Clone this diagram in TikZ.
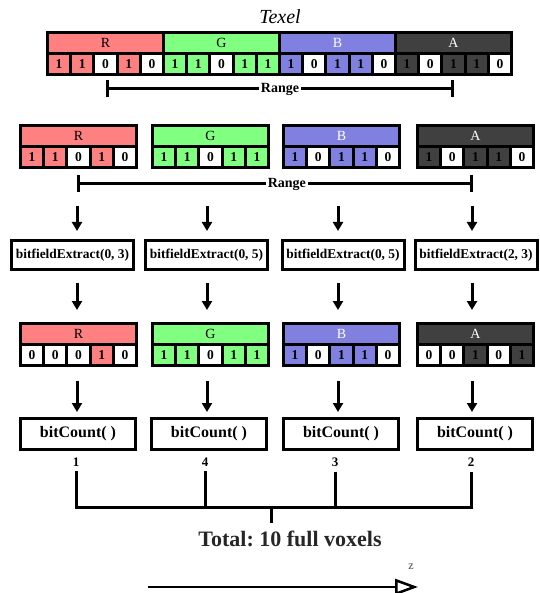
\documentclass[tikz,border=0pt]{standalone}
\usepackage{fontspec}
\setmainfont{Liberation Serif}
\usetikzlibrary{arrows.meta, positioning}
\frenchspacing

\definecolor{redfill}{HTML}{FF8080}
\definecolor{greenfill}{HTML}{80FF80}
\definecolor{bluefill}{HTML}{8080E0}
\definecolor{alphafill}{HTML}{404040}

% name / frame left / frame top / colour / channel / header text / bits
\def\registers{%
  texR/46/31/redfill/R/black/{1,1,0,1,0},
  texG/162/31/greenfill/G/black/{1,1,0,1,1},
  texB/278/31/bluefill/B/white/{1,0,1,1,0},
  texA/394/31/alphafill/A/white/{1,0,1,1,0},
  inR/19/124/redfill/R/black/{1,1,0,1,0},
  inG/151/124/greenfill/G/black/{1,1,0,1,1},
  inB/282/124/bluefill/B/white/{1,0,1,1,0},
  inA/416/124/alphafill/A/white/{1,0,1,1,0},
  outR/19/322/redfill/R/black/{0,0,0,1,0},
  outG/151/322/greenfill/G/black/{1,1,0,1,1},
  outB/282/322/bluefill/B/white/{1,0,1,1,0},
  outA/416/322/alphafill/A/white/{0,0,1,0,1}}

\begin{document}
\begin{tikzpicture}[x=1pt, y=-1pt,
    regframe/.style={rectangle, fill=black, inner sep=0pt, outer sep=0pt,
        minimum width=119pt, minimum height=45pt},
    hdr/.style={rectangle, inner sep=0pt, minimum width=113pt, minimum height=18pt,
        font=\fontsize{14}{16}\selectfont},
    bitcell/.style={rectangle, inner sep=0pt, minimum width=20.2pt, minimum height=18pt,
        font=\fontsize{13.5}{15}\selectfont\bfseries},
    opbox/.style={draw, line width=3pt, inner sep=0pt, fill=white},
    flow/.style={line width=3pt, -{Triangle[length=9pt, width=10pt]}},
    rangebar/.style={line width=3pt, {Bar[width=17pt]}-{Bar[width=17pt]}},
    rangelabel/.style={fill=white, inner sep=2pt, font=\fontsize{14}{16}\selectfont\bfseries},
    bracket/.style={line width=3pt},
    num/.style={inner sep=0pt, font=\fontsize{13}{15}\selectfont\bfseries}]

    \useasboundingbox (0,0) rectangle (539,593);

    % Texel and the three register rows
    \node[font=\fontsize{20}{24}\selectfont\itshape] (texel) at (280,17) {Texel};

    \foreach \reg/\fl/\yt/\col/\lab/\hc/\bits in \registers
        \node[regframe] (\reg) at ({\fl+59.5}, {\yt+22.5}) {};

    \foreach \reg/\fl/\yt/\col/\lab/\hc/\bits in \registers {
        \node[hdr, fill=\col, text=\hc] (\reg-h) at ({\fl+59.5}, {\yt+12}) {\lab};
        \foreach \bit [count=\i] in \bits {
            \ifnum\bit=1 \def\cellfill{\col}\else\def\cellfill{white}\fi
            \node[bitcell, fill=\cellfill] (\reg-\i) at ({\fl+1.5+(\i-0.5)*23.2}, {\yt+33}) {\bit};
        }
    }

    % Ranges
    \coordinate (rngTopL) at (106,89);
    \coordinate (rngTopR) at (454,89);
    \draw[rangebar] (rngTopL) -- node[rangelabel] (rngTopLabel) {Range} (rngTopR);
    \coordinate (rngL) at (77,184);
    \coordinate (rngR) at (473,184);
    \draw[rangebar] (rngL) -- node[rangelabel, pos=0.53] (rngLabel) {Range} (rngR);

    % Operations
    \node[opbox, minimum width=122pt, minimum height=29pt,
        font=\fontsize{13.4}{16}\selectfont\bfseries] (exR) at (72.5,255) {bitfieldExtract(0, 3)};
    \node[opbox, minimum width=122pt, minimum height=29pt,
        font=\fontsize{13.4}{16}\selectfont\bfseries] (exG) at (206.5,255) {bitfieldExtract(0, 5)};
    \node[opbox, minimum width=122pt, minimum height=29pt,
        font=\fontsize{13.4}{16}\selectfont\bfseries] (exB) at (343,255) {bitfieldExtract(0, 5)};
    \node[opbox, minimum width=122pt, minimum height=29pt,
        font=\fontsize{13.4}{16}\selectfont\bfseries] (exA) at (476,255) {bitfieldExtract(2, 3)};

    \node[opbox, minimum width=115pt, minimum height=31pt,
        font=\fontsize{16}{18}\selectfont\bfseries] (cntR) at (78,434) {bitCount( )};
    \node[opbox, minimum width=115pt, minimum height=31pt,
        font=\fontsize{16}{18}\selectfont\bfseries] (cntG) at (209,434) {bitCount( )};
    \node[opbox, minimum width=115pt, minimum height=31pt,
        font=\fontsize{16}{18}\selectfont\bfseries] (cntB) at (341,434) {bitCount( )};
    \node[opbox, minimum width=115pt, minimum height=31pt,
        font=\fontsize{16}{18}\selectfont\bfseries] (cntA) at (475,434) {bitCount( )};

    % Flow arrows per channel
    \coordinate (colR) at (77,0);
    \coordinate (colG) at (207,0);
    \coordinate (colB) at (338,0);
    \coordinate (colA) at (472,0);
    \foreach \c in {R,G,B,A} {
        \draw[flow, shorten <=22pt, shorten >=8pt] (col\c |- rngL) -- (col\c |- ex\c.north);
        \draw[flow, shorten <=12pt, shorten >=12pt] (col\c |- ex\c.south) -- (col\c |- out\c.north);
        \draw[flow, shorten <=14pt, shorten >=5pt] (col\c |- out\c.south) -- (col\c |- cnt\c.north);
    }

    % Counts and total
    \node[num] (numR) at (76,462) {1};
    \node[num] (numG) at (205,462) {4};
    \node[num] (numB) at (335,462) {3};
    \node[num] (numA) at (471,462) {2};

    \coordinate (sum) at (271,507);
    \draw[bracket] ([yshift=-5pt]numR.south) |- (sum) -| ([yshift=-5pt]numA.south);
    \draw[bracket] ([yshift=-5pt]numG.south) -- (numG |- sum);
    \draw[bracket] ([yshift=-5pt]numB.south) -- (numB |- sum);

    \node[inner sep=0pt, font=\fontsize{22}{26}\selectfont\bfseries, text=black!85] (total)
        at (290,539) {Total: 10 full voxels};
    \draw[bracket, shorten >=8pt] (sum) -- (sum |- total.north);

    % z axis
    \coordinate (zStart) at (148,587);
    \coordinate (zEnd) at (418,587);
    \draw[line width=2.5pt, -{Triangle[open, length=23pt, width=16pt]}] (zStart) -- (zEnd);
    \node[font=\fontsize{12}{13}\selectfont, text=black!75] (zLabel) at (411,567) {z};

\end{tikzpicture}
\end{document}
